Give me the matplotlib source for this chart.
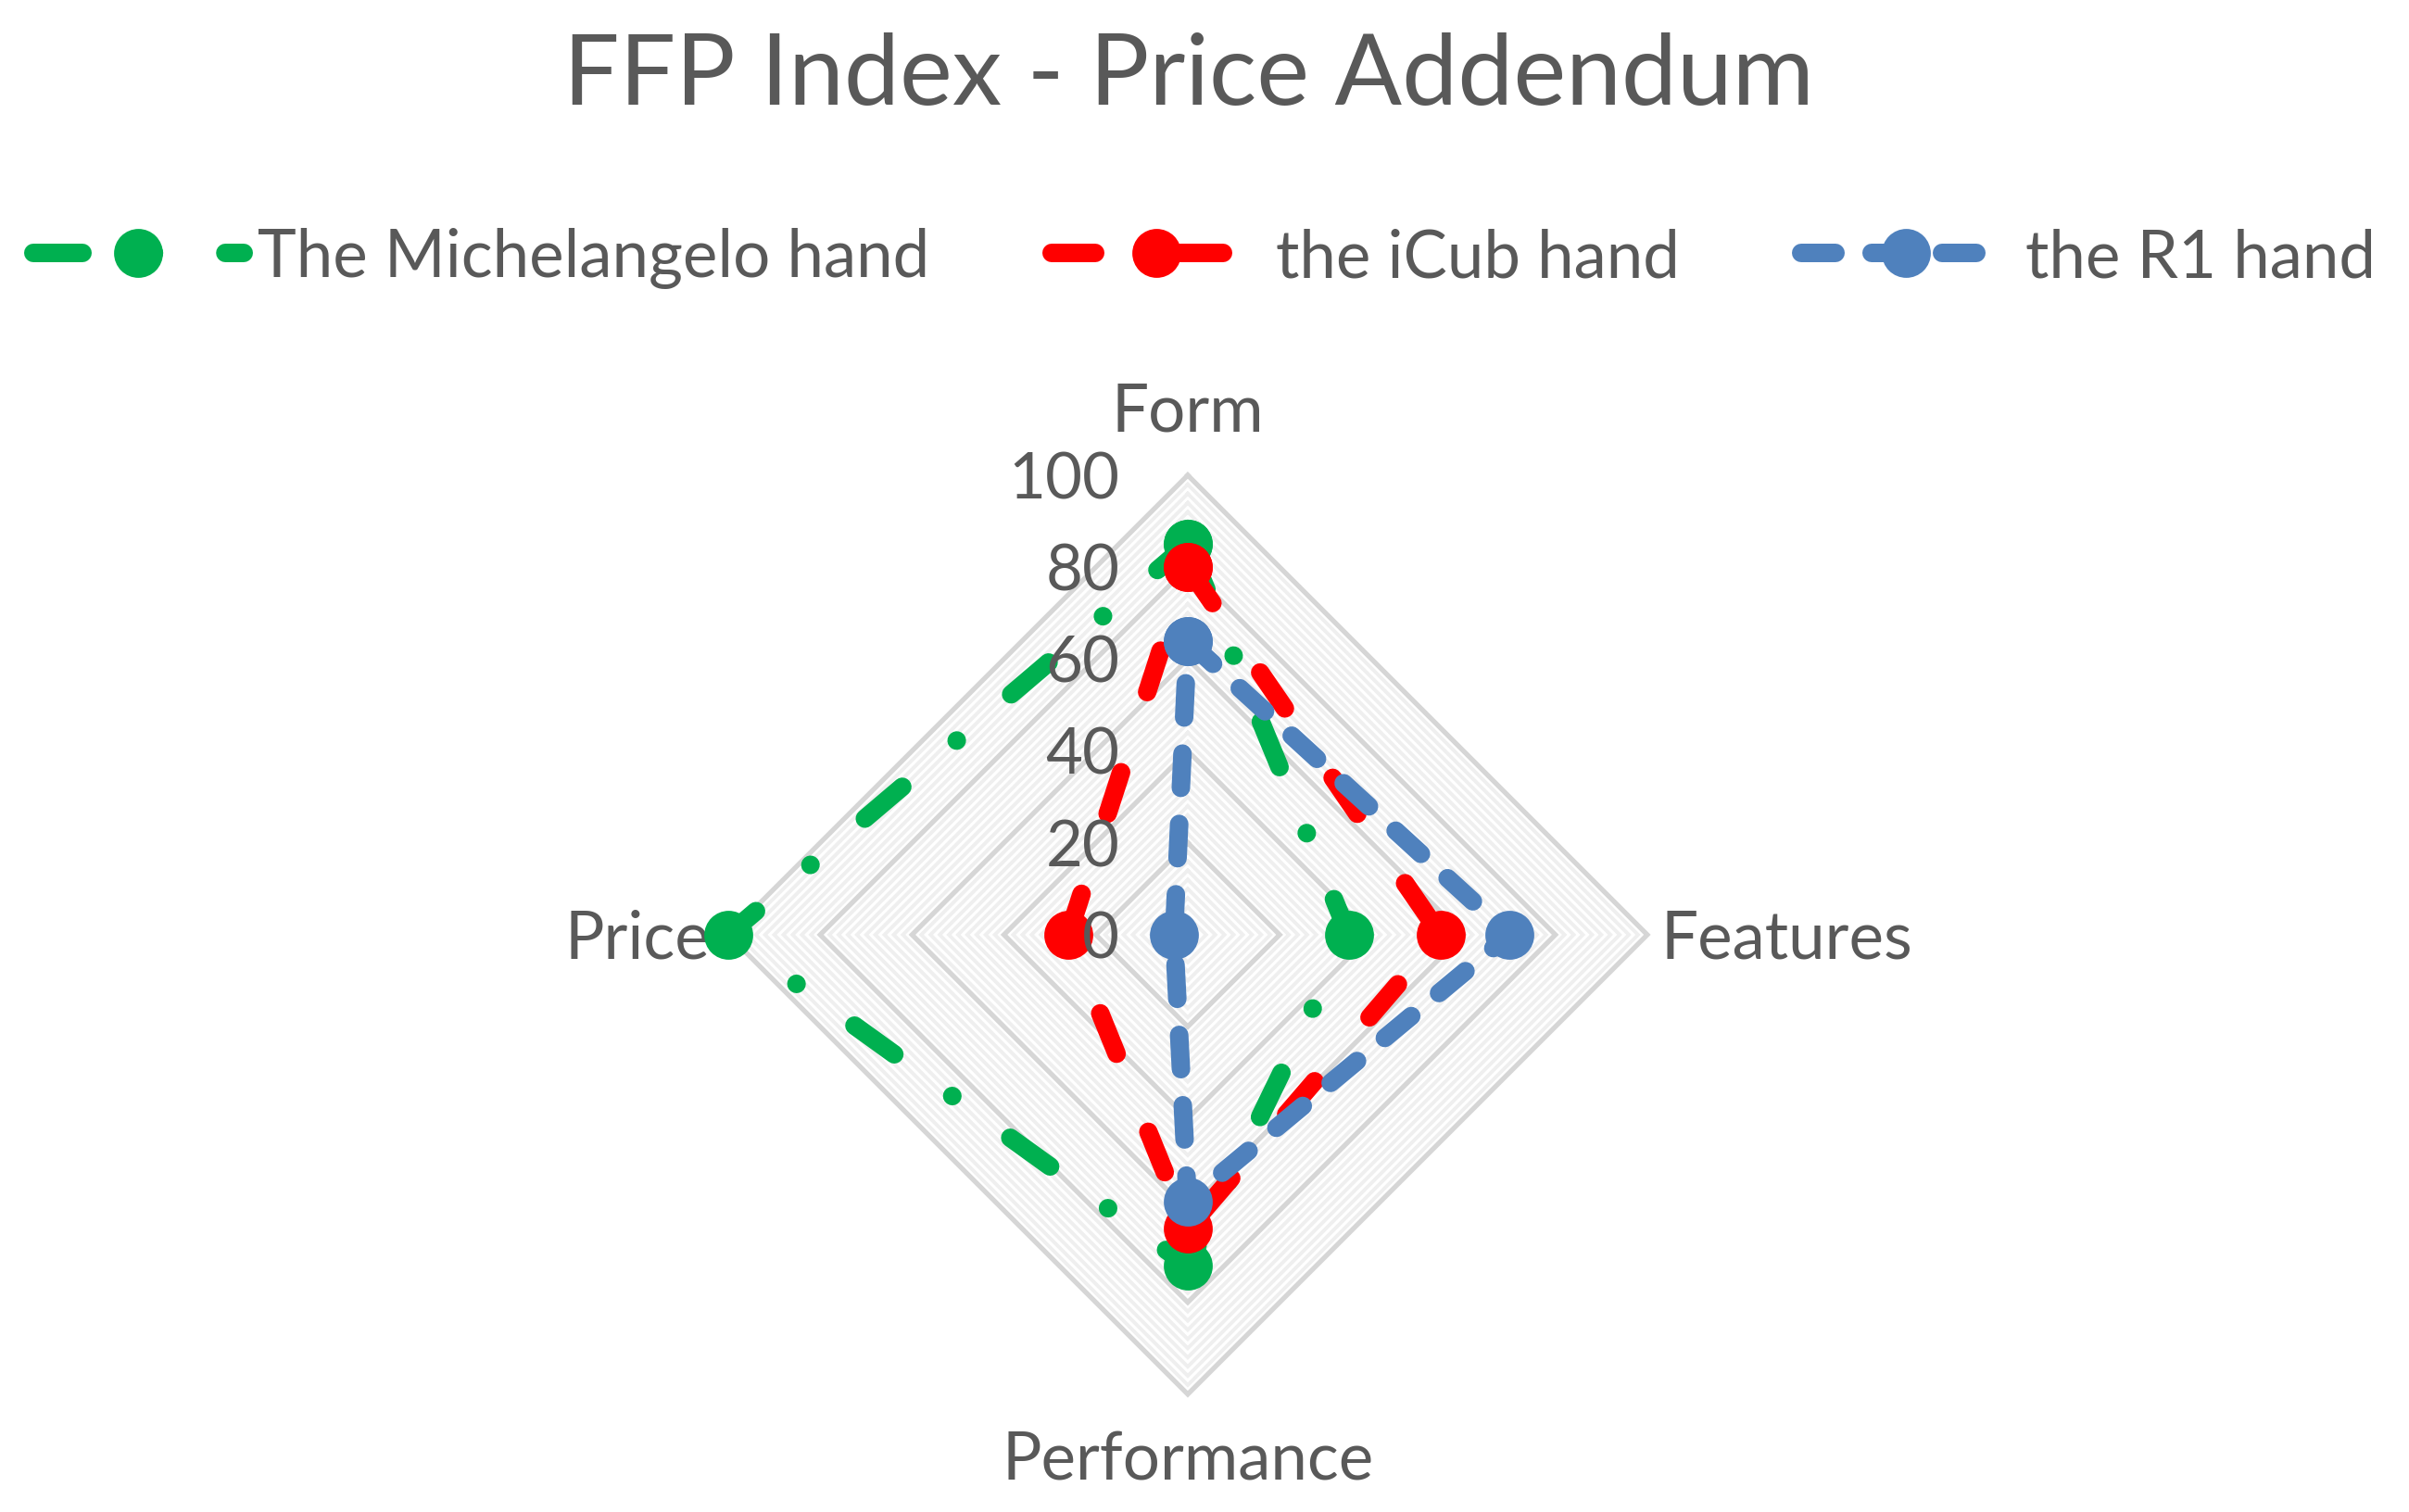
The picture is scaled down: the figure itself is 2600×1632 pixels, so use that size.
import numpy as np
import matplotlib
matplotlib.use("Agg")
import matplotlib.pyplot as plt

# data
categories = ["Form", "Features", "Performance", "Price"]
michelangelo = [85, 35, 72, 100]
icub = [80, 55, 64, 26]
r1 = [64, 70, 58, 3]
series_names = ["The Michelangelo hand", "the iCub hand", "the R1 hand"]
tick_values = [0, 20, 40, 60, 80, 100]

plt.rcParams['font.family'] = ['Lato', 'DejaVu Sans']
txtcol = '#595959'

fig = plt.figure(figsize=(13, 8.165), dpi=200)
ax = fig.add_axes([0.3023, 0.0778, 0.3815, 0.6075], projection='polar')
ax.set_theta_zero_location('N')
ax.set_theta_direction(-1)
ax.set_ylim(0, 100)
ax.grid(False)
ax.spines['polar'].set_visible(False)
ax.set_xticks([])
ax.set_yticks([])
ax.patch.set_alpha(0)

theta = np.arange(len(categories)) * 2 * np.pi / len(categories)
theta_closed = np.append(theta, theta[0])

# diamond gridlines: minor every 2, major every 20
for r in range(2, 101, 2):
    if r % 20 == 0:
        continue
    ax.plot(theta_closed, [r] * 5, color='#EFEFEF', lw=1.4,
            solid_joinstyle='miter', clip_on=False, zorder=1)
for r in range(20, 101, 20):
    ax.plot(theta_closed, [r] * 5, color='#D6D6D6', lw=1.9,
            solid_joinstyle='miter', clip_on=False, zorder=2)

lw = 7.2
ms = 18
styles = [
    ('#00B050', (2.65, 3.85, 0.01, 3.85)),
    ('#FF0000', (2.35, 4.55)),
    ('#4F81BD', (1.85, 1.95)),
]
for vals, name, (col, dash) in zip([michelangelo, icub, r1], series_names, styles):
    v = np.append(vals, vals[0])
    ax.plot(theta_closed, v, color=col, lw=lw, dashes=dash,
            dash_capstyle='round', marker='o', ms=ms, mec=col, mfc=col,
            clip_on=False, label=name, zorder=5)

# value labels along the Form axis
for t in tick_values:
    ax.annotate(str(t), xy=(0, t), xytext=(-26.5, -8.8), textcoords='offset points',
                ha='right', va='baseline', fontsize=24.8, color=txtcol,
                annotation_clip=False, zorder=10)

# category labels
fs = 25.5
ax.annotate(categories[0], xy=(theta[0], 100), xytext=(0, 17.6), textcoords='offset points',
            ha='center', va='baseline', fontsize=fs, color=txtcol, annotation_clip=False)
ax.annotate(categories[1], xy=(theta[1], 100), xytext=(5.4, -9), textcoords='offset points',
            ha='left', va='baseline', fontsize=fs, color=txtcol, annotation_clip=False)
ax.annotate(categories[2], xy=(theta[2], 100), xytext=(0, -33), textcoords='offset points',
            ha='center', va='baseline', fontsize=fs, color=txtcol, annotation_clip=False)
ax.annotate(categories[3], xy=(theta[3], 100), xytext=(-7.2, -9), textcoords='offset points',
            ha='right', va='baseline', fontsize=fs, color=txtcol, annotation_clip=False)

fig.text(0.4935, 0.9308, "FFP Index - Price Addendum", ha='center', va='baseline',
         fontsize=38.6, color=txtcol)

leg = fig.legend(loc='center', bbox_to_anchor=(0.5, 0.829), ncol=3, frameon=False,
                 fontsize=fs, handlelength=3.2, handletextpad=0.22, columnspacing=1.85,
                 numpoints=1)
for t in leg.get_texts():
    t.set_color(txtcol)

fig.savefig("out.png", dpi=200, facecolor='white')
